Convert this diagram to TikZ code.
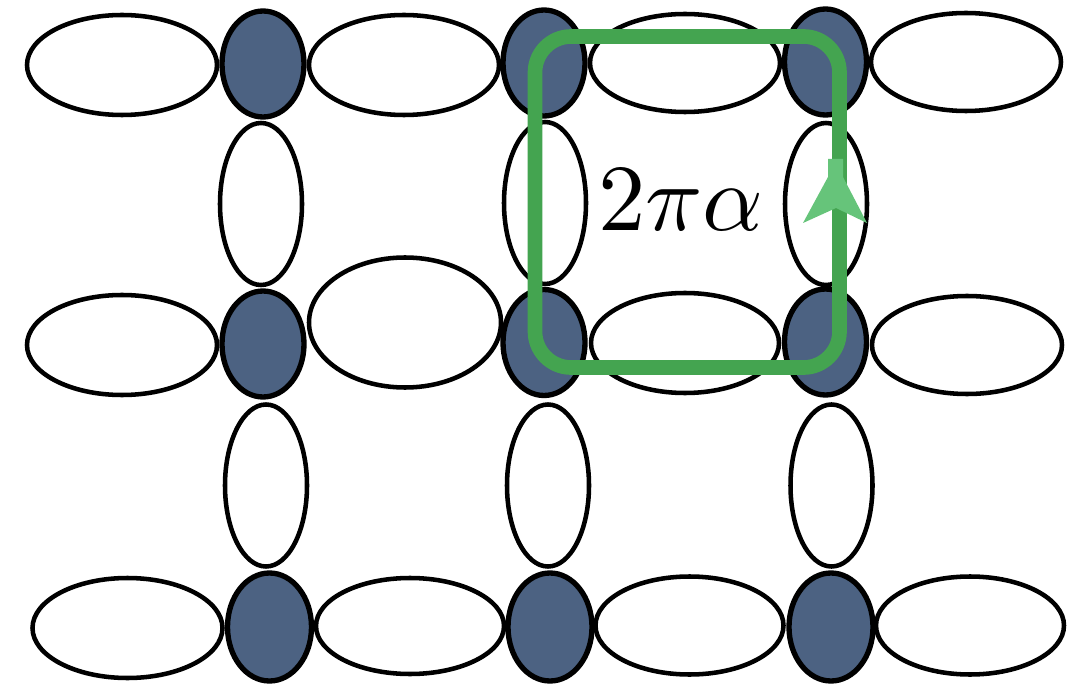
\documentclass[tikz,border=0pt]{standalone}
\usepackage{amsmath}
\definecolor{site}{HTML}{4C6282}
\definecolor{loopgreen}{HTML}{44A450}
\definecolor{arrowgreen}{HTML}{66C47A}
\tikzset{
  bond/.style={draw=black,line width=3.4pt,fill=white},
  siteell/.style={draw=black,line width=4pt,fill=site},
  loopline/.style={draw=loopgreen,line width=11pt,rounded corners=27pt},
  arrowhd/.style={fill=arrowgreen,draw=none},
}
\begin{document}
\begin{tikzpicture}[x=0.75pt,y=-0.75pt]
\useasboundingbox (0,0) rectangle (1067,684);
% horizontal bonds row 1
\path[bond] (122,65) ellipse (95 and 50);
\path[bond] (404,65) ellipse (95 and 50);
\path[bond] (685,63) ellipse (95 and 49);
\path[bond] (966,62) ellipse (95 and 49);
% vertical bonds rows 1-2
\path[bond] (261,204) ellipse (41 and 81);
\path[bond] (545,203) ellipse (41 and 81);
\path[bond] (826,204) ellipse (41 and 81);
% horizontal bonds row 2
\path[bond] (122,345) ellipse (95 and 50);
\path[bond] (405,322.5) ellipse (96 and 65);
\path[bond] (685,343) ellipse (94 and 50);
\path[bond] (967,345) ellipse (95 and 49);
% vertical bonds rows 2-3
\path[bond] (266,485.5) ellipse (41 and 81);
\path[bond] (548,485.5) ellipse (41 and 81);
\path[bond] (831.5,485.5) ellipse (41 and 81);
% horizontal bonds row 3
\path[bond] (127.5,628) ellipse (95 and 50);
\path[bond] (410,626) ellipse (94 and 48);
\path[bond] (689.5,625.5) ellipse (94 and 49);
\path[bond] (970,625.5) ellipse (94 and 49);
% sites
\path[siteell] (263,64) ellipse (41 and 53);
\path[siteell] (544,63) ellipse (41 and 53);
\path[siteell] (825.5,62) ellipse (41 and 53);
\path[siteell] (263,344) ellipse (41 and 53);
\path[siteell] (544,342.5) ellipse (41 and 53);
\path[siteell] (825.5,342) ellipse (41 and 53);
\path[siteell] (269.5,627) ellipse (42 and 54);
\path[siteell] (550,627) ellipse (42 and 54);
\path[siteell] (831,627) ellipse (42 and 54);
% green loop
\coordinate (tl) at (535,36.5);
\coordinate (br) at (839.5,367.5);
\draw[loopline] (tl) rectangle (br);
% arrow head
\path[arrowhd] (828,159) -- (843,159) -- (843,177) -- (867,223) -- (836,208) -- (803,223) -- (828,177) -- cycle;
% label
\node[anchor=base,inner sep=0pt,scale=7.1] (flux) at (681,231) {$2\pi\alpha$};
\end{tikzpicture}
\end{document}
